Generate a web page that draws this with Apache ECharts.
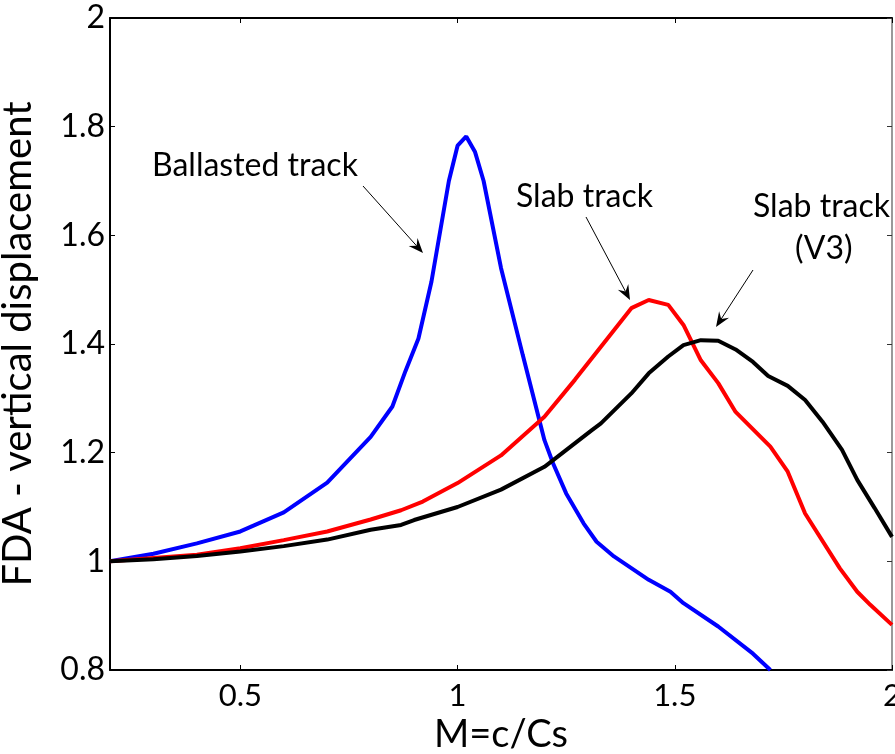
<!DOCTYPE html>
<html><head><meta charset="utf-8">
<script src="https://cdn.jsdelivr.net/npm/echarts@6/dist/echarts.min.js"></script>
<style>html,body{margin:0;padding:0;background:#fff}#c{width:895px;height:754px}</style>
</head><body><div id="c"></div>
<script>
var ballastedX = [0.2,0.3,0.4,0.5,0.6,0.7,0.8,0.85,0.88,0.91,0.94,0.98,1.0,1.02,1.04,1.06,1.1,1.15,1.2,1.22,1.25,1.29,1.32,1.36,1.44,1.49,1.52,1.6,1.68,1.72];
var ballastedY = [1.0,1.014,1.033,1.055,1.09,1.145,1.229,1.285,1.35,1.41,1.515,1.70,1.765,1.782,1.754,1.70,1.54,1.38,1.223,1.18,1.125,1.07,1.036,1.009,0.966,0.944,0.923,0.88,0.83,0.80];
var slabX = [0.2,0.3,0.4,0.5,0.6,0.7,0.8,0.87,0.92,1.0,1.1,1.2,1.27,1.33,1.4,1.44,1.485,1.52,1.56,1.6,1.64,1.72,1.76,1.8,1.88,1.92,1.95,2.0];
var slabY = [1.0,1.006,1.012,1.024,1.039,1.055,1.077,1.094,1.11,1.144,1.195,1.266,1.334,1.395,1.466,1.481,1.472,1.435,1.37,1.328,1.275,1.211,1.165,1.088,0.987,0.944,0.92,0.883];
var v3X = [0.2,0.3,0.4,0.5,0.6,0.7,0.8,0.87,0.9,1.0,1.1,1.2,1.31,1.33,1.4,1.44,1.485,1.52,1.56,1.6,1.64,1.68,1.715,1.76,1.8,1.84,1.885,1.92,1.96,2.0];
var v3Y = [1.0,1.004,1.01,1.018,1.028,1.04,1.058,1.067,1.076,1.1,1.132,1.174,1.242,1.254,1.309,1.346,1.377,1.398,1.407,1.406,1.39,1.367,1.341,1.323,1.297,1.257,1.205,1.15,1.098,1.045];
var xTicks = [0.5,1,1.5,2];
var yTicks = [0.8,1,1.2,1.4,1.6,1.8,2];

function pairs(xs, ys){ return xs.map(function(x,i){return [x, ys[i]];}); }

var FONT = 'Lato';
var chart = echarts.init(document.getElementById('c'));
function arrow(x1,y1,x2,y2){
  var a = Math.atan2(y2-y1, x2-x1), L = 16, w = 0.38;
  var p1 = [x2 - L*Math.cos(a-w), y2 - L*Math.sin(a-w)];
  var p2 = [x2 - L*Math.cos(a+w), y2 - L*Math.sin(a+w)];
  var m = [x2 - 0.6*L*Math.cos(a), y2 - 0.6*L*Math.sin(a)];
  return [
    {type:'line', shape:{x1:x1,y1:y1,x2:m[0],y2:m[1]}, style:{stroke:'#000', lineWidth:1}},
    {type:'polygon', shape:{points:[p1,[x2,y2],p2,m]}, style:{fill:'#000'}}
  ];
}
function label(t, x, y){
  return {type:'text', x:x, y:y, style:{text:t, font:'32px '+FONT, fill:'#000', align:'left', verticalAlign:'middle'}};
}
var gfx = [
  label('Ballasted track', 152, 166),
  label('Slab track', 516, 197),
  label('Slab track', 753, 207),
  label('(V3)', 795, 249)
].concat(arrow(363,186,423,253)).concat(arrow(586,217,630,300)).concat(arrow(753,270,716,327));

chart.setOption({
  animation:false,
  backgroundColor:'#fff',
  grid:{left:110, right:3, top:18, bottom:84, containLabel:false, outerBoundsMode:'none'},
  xAxis:[{
    type:'value', min:0.2, max:2,
    name:'M=c/Cs', nameLocation:'middle', nameGap:44,
    nameTextStyle:{fontFamily:FONT, fontSize:38, color:'#000'},
    axisLine:{onZero:false, lineStyle:{color:'#000', width:2}},
    axisTick:{inside:true, length:5, customValues:xTicks, lineStyle:{color:'#000'}},
    axisLabel:{customValues:xTicks, fontFamily:FONT, fontSize:31, color:'#000', margin:10,
      formatter:function(v){return String(v);}},
    splitLine:{show:false}
  },{
    type:'value', min:0.2, max:2, position:'top',
    axisLine:{onZero:false, lineStyle:{color:'#000', width:2}},
    axisTick:{inside:true, length:5, customValues:xTicks, lineStyle:{color:'#000'}},
    axisLabel:{show:false}, splitLine:{show:false}
  }],
  yAxis:[{
    type:'value', min:0.8, max:2, interval:0.2,
    name:'FDA - vertical displacement', nameLocation:'middle', nameGap:72, nameRotate:90,
    nameTextStyle:{fontFamily:FONT, fontSize:40, color:'#000'},
    axisLine:{onZero:false, lineStyle:{color:'#000', width:2}},
    axisTick:{inside:true, length:5, lineStyle:{color:'#000'}},
    axisLabel:{fontFamily:FONT, fontSize:32, color:'#000', margin:5,
      formatter:function(v){return String(Math.round(v*10)/10);}},
    splitLine:{show:false}
  },{
    type:'value', min:0.8, max:2, interval:0.2, position:'right',
    axisLine:{onZero:false, lineStyle:{color:'#777', width:1.5}},
    axisTick:{inside:true, length:5, lineStyle:{color:'#333'}},
    axisLabel:{show:false}, splitLine:{show:false}
  }],
  series:[
    {type:'line', name:'Ballasted track', data:pairs(ballastedX, ballastedY), showSymbol:false, clip:true,
     lineStyle:{color:'#0000ff', width:4}, itemStyle:{color:'#0000ff'}},
    {type:'line', name:'Slab track', data:pairs(slabX, slabY), showSymbol:false, clip:true,
     lineStyle:{color:'#ff0000', width:4}, itemStyle:{color:'#ff0000'}},
    {type:'line', name:'Slab track (V3)', data:pairs(v3X, v3Y), showSymbol:false, clip:true,
     lineStyle:{color:'#000000', width:4}, itemStyle:{color:'#000'}}
  ],
  graphic:gfx
});
</script></body></html>
